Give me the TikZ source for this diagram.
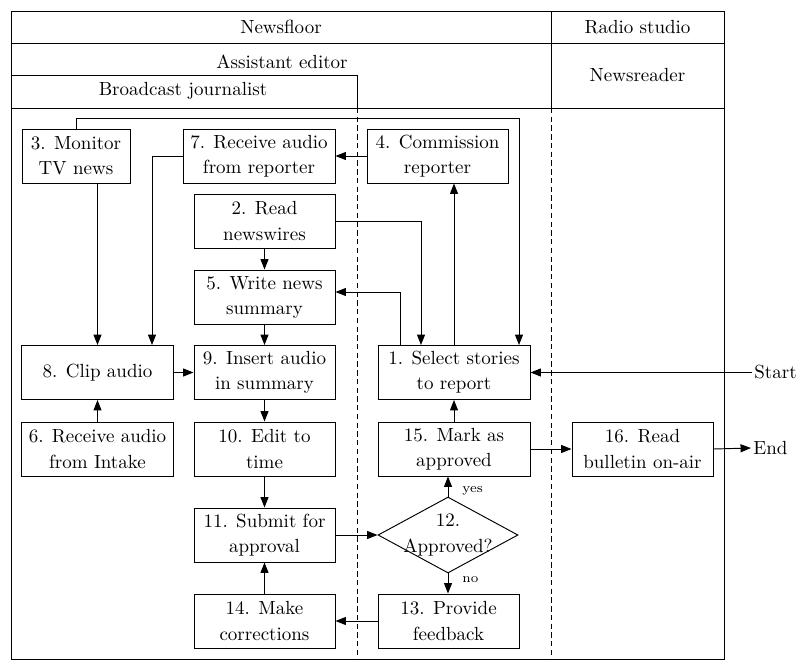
\documentclass[tikz,border=0pt]{standalone}
\usetikzlibrary{arrows.meta,shapes.geometric}
\begin{document}
\begin{tikzpicture}[x=0.5263pt,y=-0.5263pt,
  line width=0.5pt,
  every node/.style={font=\fontsize{10}{13.2}\selectfont},
  box/.style={draw, align=center, inner sep=0pt, minimum height={54*0.5263pt}},
  wa/.style={minimum width={141*0.5263pt}},
  wb/.style={minimum width={152*0.5263pt}},
  wc/.style={minimum width={108*0.5263pt}},
  lanetext/.style={inner sep=0pt},
  flow/.style={-{Triangle[length=5.5pt,width=4.2pt]}},
  lanediv/.style={dash pattern=on 2.8pt off 1.8pt},
  ans/.style={font=\scriptsize, inner sep=0pt, anchor=west}
]
\useasboundingbox (0,0) rectangle (800,671);
% lanes frame
\draw (11,11) rectangle (724,659);
\draw (11,43) -- (724,43);
\draw (11,108) -- (724,108);
\draw (551,11) -- (551,108);
\draw (11,75) -- (357,75) -- (357,108);
\draw[lanediv] (357,108) -- (357,659);
\draw[lanediv] (551,108) -- (551,659);
\node[lanetext] (lnf) at (281,27) {Newsfloor};
\node[lanetext] (lrs) at (637.5,27) {Radio studio};
\node[lanetext] (lae) at (282,62) {Assistant editor};
\node[lanetext] (lbj) at (183,91) {Broadcast journalist};
\node[lanetext] (lnr) at (637.5,75) {Newsreader};
% nodes
\node[box,wc] (n3) at (76,156) {3. Monitor\\TV news};
\node[box,wb] (n7) at (259,156) {7. Receive audio\\from reporter};
\node[box,wa] (n4) at (437.5,156) {4. Commission\\reporter};
\node[box,wa] (n2) at (264.5,221) {2. Read\\newswires};
\node[box,wa] (n5) at (264.5,297) {5. Write news\\summary};
\node[box,wb] (n8) at (97.5,372.5) {8. Clip audio};
\node[box,wa] (n9) at (264.5,372.5) {9. Insert audio\\in summary};
\node[box,wb] (n1) at (454,372.5) {1. Select stories\\to report};
\node[box,wb] (n6) at (97.5,449) {6. Receive audio\\from Intake};
\node[box,wa] (n10) at (264.5,449) {10. Edit to\\time};
\node[box,wb] (n15) at (454,449) {15. Mark as\\approved};
\node[box,wa] (n16) at (642.5,449) {16. Read\\bulletin on-air};
\node[box,wa] (n11) at (264.5,535) {11. Submit for\\approval};
\node[draw, diamond, inner sep=0pt, minimum width={140*0.5263pt}, minimum height={76*0.5263pt}] (n12) at (448,535) {};
\node[align=center, inner sep=0pt] (n12t) at (448,535) {12.\\Approved?};
\node[box,wa] (n13) at (448.5,621) {13. Provide\\feedback};
\node[box,wa] (n14) at (264.5,621) {14. Make\\corrections};
\node[inner sep=1pt, anchor=west] (start) at (752,372.5) {Start};
\node[inner sep=1pt, anchor=west] (end) at (751,448) {End};
% connectors
\coordinate (c3) at (76,118);
\draw[flow] (n3.north) -- (c3) -| ([xshift={65*0.5263pt}]n1.north);
\draw[flow] (n8.north |- n3.south) -- (n8.north);
\draw[flow] (n7.west) -| ([xshift={54.5*0.5263pt}]n8.north);
\draw[flow] (n4.west) -- (n7.east);
\draw[flow] (n2.east) -| ([xshift={-33*0.5263pt}]n1.north);
\coordinate (c1) at (400,292);
\draw[flow] ([xshift={-54*0.5263pt}]n1.north) -- (c1) -- (c1 -| n5.east);
\draw[flow] (n1.north) -- (n1.north |- n4.south);
\draw[flow] (n2.south) -- (n5.north);
\draw[flow] (n5.south) -- (n9.north);
\draw[flow] (n8.east) -- (n9.west);
\draw[flow] (n6.north) -- (n8.south);
\draw[flow] (n9.south) -- (n10.north);
\draw[flow] (n10.south) -- (n11.north);
\draw[flow] (n14.north) -- (n11.south);
\draw[flow] (n11.east) -- (n12.west);
\draw[flow] (n12.north) -- node[ans, pos=0.3, xshift={14*0.5263pt}] {yes} (n12.north |- n15.south);
\draw[flow] (n12.south) -- node[ans, pos=0.3, xshift={14*0.5263pt}] {no} (n12.south |- n13.north);
\draw[flow] (n13.west) -- (n14.east);
\draw[flow] (n15.north) -- (n1.south);
\draw[flow] (n15.east) -- (n16.west);
\draw[flow] (n16.east) -- (end.west);
\draw[flow] (start.west) -- (n1.east);
\end{tikzpicture}
\end{document}
